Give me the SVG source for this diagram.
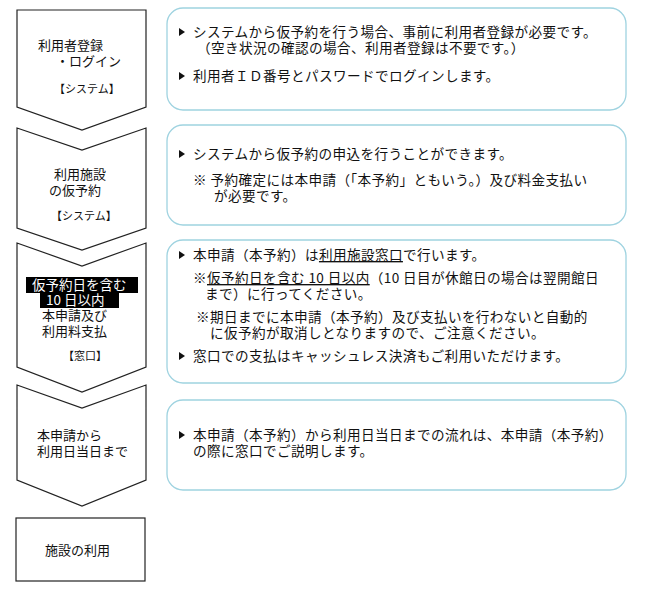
<svg xmlns="http://www.w3.org/2000/svg" width="650" height="594" viewBox="0 0 650 594">
<style>
.ch{fill:#fff;stroke:#222;stroke-width:1.2}
.rb{fill:#fff;stroke:#9fd3e0;stroke-width:1.3}
text{font-family:"Noto Sans CJK JP","Noto Sans",sans-serif;font-size:13px;fill:#111}
.r{font-size:13.6px;letter-spacing:0.4px}
.s{font-size:11px}
.u{text-decoration:underline}
.tri{fill:#111}
</style>
<rect width="650" height="594" fill="#fff"/>
<g id="step1"><path class="ch" d="M17,10 H146 V107 L82,130 L17,107 Z"/>
<text x="38" y="50">利用者登録</text><text x="56" y="66">・ログイン</text><text x="54" y="93" class="s">【システム】</text></g>
<g id="step2"><path class="ch" d="M17,128 L82,150 L146,128 V228 L82,250 L17,228 Z"/>
<text x="54" y="179">利用施設</text><text x="49" y="195">の仮予約</text><text x="51" y="220" class="s">【システム】</text></g>
<g id="step3"><path class="ch" d="M17,243 L82,266 L146,243 V367 L82,392 L17,367 Z"/>
<rect x="26" y="277" width="112" height="16" fill="#000"/><rect x="40" y="293" width="79" height="15" fill="#000"/>
<text x="32" y="290" style="fill:#fff;font-size:13.5px">仮予約日を含む</text><text x="46" y="305" style="fill:#fff;font-size:13.5px">10 日以内</text>
<text x="42" y="320">本申請及び</text><text x="42" y="336">利用料支払</text><text x="63" y="360" class="s">【窓口】</text></g>
<g id="step4"><path class="ch" d="M17,385 L82,408 L146,385 V480 L82,506 L17,480 Z"/>
<text x="37" y="440">本申請から</text><text x="37" y="456">利用日当日まで</text></g>
<g id="step5"><rect class="ch" x="16" y="518" width="129" height="63"/><text x="45" y="555">施設の利用</text></g>
<g id="noteA"><rect class="rb" x="167" y="8" width="459" height="102" rx="16"/>
<path class="tri" d="M179,28 l6,4 l-6,4 Z"/><text class="r" x="193" y="37">システムから仮予約を行う場合、事前に利用者登録が必要です。</text>
<text class="r" x="197" y="53">（空き状況の確認の場合、利用者登録は不要です。）</text>
<path class="tri" d="M179,72 l6,4 l-6,4 Z"/><text class="r" x="193" y="81">利用者ＩＤ番号とパスワードでログインします。</text></g>
<g id="noteB"><rect class="rb" x="167" y="125" width="459" height="100" rx="16"/>
<path class="tri" d="M179,150 l6,4 l-6,4 Z"/><text class="r" x="193" y="159">システムから仮予約の申込を行うことができます。</text>
<text class="r" x="193" y="185">※  予約確定には本申請（「本予約」ともいう。）及び料金支払い</text>
<text class="r" x="214" y="201">が必要です。</text></g>
<g id="noteC"><rect class="rb" x="167" y="240" width="459" height="143" rx="16"/>
<path class="tri" d="M179,251 l6,4 l-6,4 Z"/><text class="r" x="193" y="260">本申請（本予約）は<tspan class="u">利用施設窓口</tspan>で行います。</text>
<text class="r" x="193" y="283">※<tspan class="u">仮予約日を含む 10 日以内</tspan>（10 日目が休館日の場合は翌開館日</text>
<text class="r" x="205" y="299">まで）に行ってください。</text>
<text class="r" x="196" y="322">※期日までに本申請（本予約）及び支払いを行わないと自動的</text>
<text class="r" x="210" y="338">に仮予約が取消しとなりますので、ご注意ください。</text>
<path class="tri" d="M179,352 l6,4 l-6,4 Z"/><text class="r" x="193" y="361">窓口での支払はキャッシュレス決済もご利用いただけます。</text></g>
<g id="noteD"><rect class="rb" x="167" y="400" width="459" height="90" rx="16"/>
<path class="tri" d="M179,431 l6,4 l-6,4 Z"/><text class="r" x="193" y="440">本申請（本予約）から利用日当日までの流れは、本申請（本予約）</text>
<text class="r" x="193" y="456">の際に窓口でご説明します。</text></g>
<g id="connectors"/>
</svg>
